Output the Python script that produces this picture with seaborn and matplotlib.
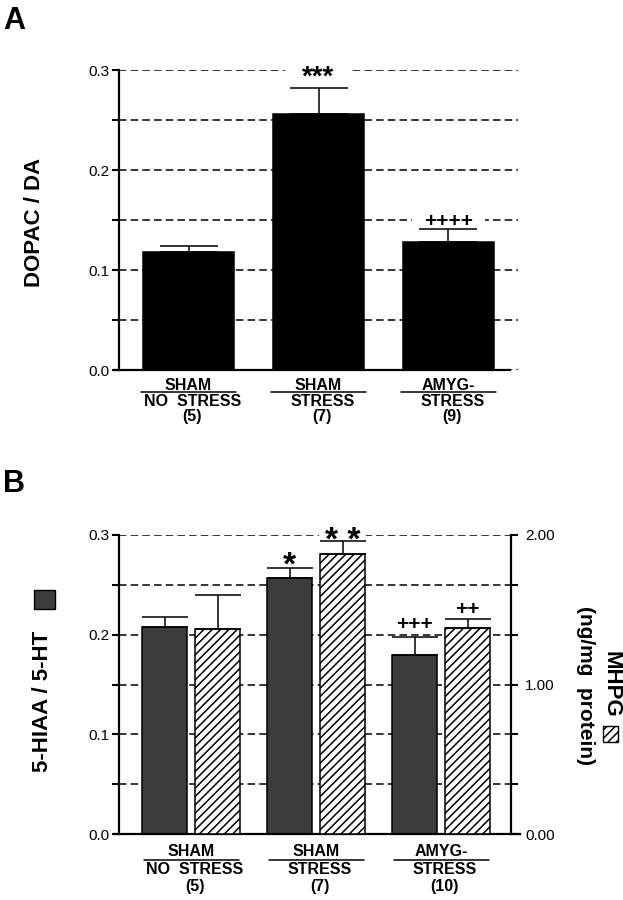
import numpy as np
import pandas as pd
import seaborn as sns
import matplotlib
matplotlib.use("Agg")
import matplotlib.pyplot as plt
from matplotlib.patches import Rectangle

# data
groups = ["SHAM NO STRESS", "SHAM STRESS", "AMYG- STRESS"]
label_top = ["SHAM", "SHAM", "AMYG-"]
label_mid = ["NO  STRESS", "STRESS", "STRESS"]
n_a = ["(5)", "(7)", "(9)"]
n_b = ["(5)", "(7)", "(10)"]

dopac_da = [0.118, 0.256, 0.128]
dopac_sem = [0.006, 0.026, 0.013]
marks_a = ["", "***", "++++"]

hiaa_ht = [0.208, 0.257, 0.180]
hiaa_sem = [0.010, 0.010, 0.018]
marks_hiaa = ["", "*", "+++"]

mhpg = [1.37, 1.87, 1.38]
mhpg_sem = [0.23, 0.09, 0.06]
marks_mhpg = ["", "* *", "++"]

measures = ["5-HIAA/5-HT", "MHPG"]
dark = "#3c3c3c"

sns.set_style("ticks", {"axes.edgecolor": "black", "xtick.color": "black",
                        "ytick.color": "black", "text.color": "black"})
plt.rcParams["font.family"] = ["Liberation Sans", "DejaVu Sans"]
plt.rcParams["axes.linewidth"] = 1.6
plt.rcParams["hatch.linewidth"] = 1.1

DASH = (0, (4.9, 2.75))

fig = plt.figure(figsize=(6.23, 9), dpi=100)


def px(v, total):
    return v / total


def add_err(ax, vals, errs, cap):
    xs = [p.get_x() + p.get_width() / 2 for p in ax.patches]
    ax.errorbar(xs, vals, yerr=[np.zeros(len(vals)), errs], fmt="none",
                ecolor="black", elinewidth=1.1, capsize=cap, capthick=1.1, zorder=4)
    return xs


def add_marks(ax, xs, vals, errs, marks, lifts, star_size):
    # text placed above the top of each error bar
    for x, v, e, m, up in zip(xs, vals, errs, marks, lifts):
        if not m:
            continue
        if "+" in m:
            size, center_em = 15, 0.34
        else:
            size, center_em = star_size, 0.44
        ax.annotate(m, xy=(x, v + e), xytext=(0, up * 0.72 - center_em * size),
                    textcoords="offset points", ha="center", va="baseline",
                    fontsize=size, fontweight="bold", zorder=0.8)


def group_labels(ax, offs, half, ns):
    tr = ax.get_xaxis_transform()
    h = ax.get_position().height * 900
    for i in range(len(groups)):
        ax.text(i, -offs[0] / h, label_top[i], transform=tr, ha="center", va="center",
                fontsize=11.5, fontweight="bold")
        ax.plot([i - half, i + half], [-offs[1] / h] * 2, transform=tr, color="black",
                lw=1.1, clip_on=False)
        ax.text(i + 0.03, -offs[2] / h, label_mid[i], transform=tr, ha="center",
                va="center", fontsize=11.5, fontweight="bold")
        ax.text(i + 0.03, -offs[3] / h, ns[i], transform=tr, ha="center", va="center",
                fontsize=11.5, fontweight="bold")


def left_axis(ax):
    ax.set_ylim(0, 0.3)
    ax.set_yticks(np.linspace(0, 0.3, 7), labels=["0.0", "", "0.1", "", "0.2", "", "0.3"])
    ax.tick_params(axis="y", direction="out", length=5, width=1.5, labelsize=11, pad=2)
    ax.set_xticks([0, 1, 2], labels=[])
    ax.tick_params(axis="x", length=0)
    ax.set_axisbelow(True)
    ax.yaxis.grid(True, color="black", linestyle=DASH, linewidth=1.1)
    ax.set_xlabel("")
    ax.set_ylabel("")
    ax.spines["top"].set_visible(False)
    ax.spines["right"].set_visible(False)


def gap(ax, x, y, w):
    # white break in a dashed line behind a significance mark
    ax.plot([x - w, x + w], [y, y], color="white", lw=3, zorder=0.7, solid_capstyle="butt")


# ---------------- panel A ----------------
axA = fig.add_axes([px(119, 623), 1 - px(370, 900), px(399, 623), px(300, 900)])
sns.barplot(x=groups, y=dopac_da, color="black", width=0.7, edgecolor="black",
            linewidth=1.1, saturation=1, errorbar=None, ax=axA)
xsA = add_err(axA, dopac_da, dopac_sem, 21)
axA.set_xlim(-0.535, 2.535)
left_axis(axA)
axA.spines["bottom"].set_bounds(-0.57, 2.47)
add_marks(axA, xsA, dopac_da, dopac_sem, marks_a, [0, 16, 9], 20)
gap(axA, xsA[1], 0.3, 0.26)
gap(axA, xsA[2], 0.15, 0.28)
group_labels(axA, (15, 22, 32, 46), 0.366, n_a)

# ---------------- panel B ----------------
axB = fig.add_axes([px(119, 623), 1 - px(834, 900), px(392, 623), px(299, 900)])
axB2 = axB.twinx()
dfB = pd.DataFrame({"group": groups * 2,
                    "measure": [measures[0]] * 3 + [measures[1]] * 3,
                    "value": hiaa_ht + mhpg})
pal = {measures[0]: dark, measures[1]: "white"}
for ax, m in [(axB, measures[0]), (axB2, measures[1])]:
    sns.barplot(data=dfB[dfB["measure"] == m], x="group", y="value", hue="measure",
                hue_order=measures, palette=pal, dodge=True, width=0.848, gap=0.15,
                edgecolor="black", linewidth=1.1, saturation=1, errorbar=None,
                legend=False, ax=ax)
for p in axB2.patches:
    p.set_hatch("////")

xsB1 = add_err(axB, hiaa_ht, hiaa_sem, 16.5)
xsB2 = add_err(axB2, mhpg, mhpg_sem, 16.5)
axB.set_xlim(-0.576, 2.56)
left_axis(axB)
axB.spines["bottom"].set_bounds(-0.616, 2.63)

axB2.set_ylim(0, 2.0)
axB2.set_yticks(np.linspace(0, 2.0, 7), labels=["0.00", "", "", "1.00", "", "", "2.00"])
axB2.tick_params(axis="y", direction="out", length=5, width=1.5, labelsize=11, pad=5)
axB2.set_ylabel("")
axB2.set_xlabel("")
for s in ["top", "left", "bottom"]:
    axB2.spines[s].set_visible(False)
axB2.spines["right"].set_visible(True)

add_marks(axB, xsB1, hiaa_ht, hiaa_sem, marks_hiaa, [0, 8, 14], 24)
add_marks(axB2, xsB2, mhpg, mhpg_sem, marks_mhpg, [0, 6, 11], 24)
gap(axB, xsB2[1], 0.3, 0.19)
group_labels(axB, (18, 26, 36, 53), 0.38, n_b)

# panel letters and axis titles
fig.text(px(3, 623), 1 - px(29, 900), "A", fontsize=22, fontweight="bold", va="baseline")
fig.text(px(3, 623), 1 - px(492, 900), "B", fontsize=22, fontweight="bold", va="baseline")
fig.text(px(35, 623), 1 - px(222, 900), "DOPAC / DA", rotation=90, ha="center",
         va="center", fontsize=16, fontweight="bold")
fig.text(px(43, 623), 1 - px(701, 900), "5-HIAA / 5-HT", rotation=90, ha="center",
         va="center", fontsize=16, fontweight="bold")
fig.text(px(611, 623), 1 - px(684, 900), "MHPG", rotation=270, ha="center",
         va="center", fontsize=16, fontweight="bold")
fig.text(px(585, 623), 1 - px(686, 900), "(ng/mg  protein)", rotation=270, ha="center",
         va="center", fontsize=15, fontweight="bold")
fig.add_artist(Rectangle((px(34, 623), 1 - px(609, 900)), px(21, 623), px(19, 900),
                         transform=fig.transFigure, facecolor=dark, edgecolor="black", lw=1))
fig.add_artist(Rectangle((px(603, 623), 1 - px(742, 900)), px(15, 623), px(16, 900),
                         transform=fig.transFigure, facecolor="white", edgecolor="black",
                         lw=1, hatch="////"))

fig.savefig("out.png", dpi=100, facecolor="white")
